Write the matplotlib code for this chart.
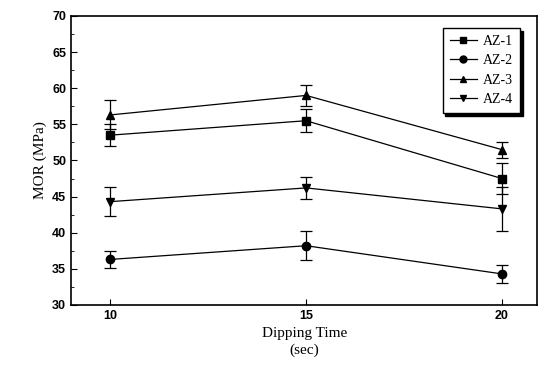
import numpy as np
import matplotlib.pyplot as plt
from matplotlib.ticker import MultipleLocator
from matplotlib.lines import Line2D

time = [10, 15, 20]
labels = ['AZ-1', 'AZ-2', 'AZ-3', 'AZ-4']
az1 = [53.5, 55.5, 47.5]
az1_err = [1.5, 1.6, 2.1]
az2 = [36.3, 38.2, 34.3]
az2_err = [1.2, 2.0, 1.2]
az3 = [56.3, 59.0, 51.5]
az3_err = [2.0, 1.4, 1.1]
az4 = [44.3, 46.2, 43.3]
az4_err = [2.0, 1.5, 3.0]

series = [az1, az2, az3, az4]
errs = [az1_err, az2_err, az3_err, az4_err]
markers = ['s', 'o', '^', 'v']

serif = 'Liberation Serif'
sans = 'Liberation Sans'

fig = plt.figure(figsize=(5.47, 3.71), dpi=100)
ax = fig.add_axes([0.130, 0.178, 0.852, 0.779])

handles = []
for y, e, m, lab in zip(series, errs, markers, labels):
    ax.errorbar(time, y, yerr=e, color='black', marker=m, markersize=6,
                linewidth=0.9, elinewidth=0.9, capsize=4, capthick=0.9)
    handles.append(Line2D([], [], color='black', marker=m, markersize=5,
                          linewidth=0.9, label=lab))

ax.set_xlim(9.0, 20.9)
ax.set_ylim(30, 70)
ax.set_xticks(time)
ax.yaxis.set_major_locator(MultipleLocator(5))
ax.yaxis.set_minor_locator(MultipleLocator(2.5))
ax.tick_params(direction='in', which='both', length=4)
ax.tick_params(which='minor', length=2.5)
for lab in ax.get_xticklabels() + ax.get_yticklabels():
    lab.set_fontfamily(sans)
    lab.set_fontsize(9)
    lab.set_fontweight('bold')

for s in ax.spines.values():
    s.set_linewidth(1.2)

ax.set_xlabel('Dipping Time\n(sec)', fontfamily=serif, fontsize=11, linespacing=1.3)
ax.set_ylabel('MOR (MPa)', fontfamily=serif, fontsize=11)

leg = ax.legend(handles=handles, loc='upper right', bbox_to_anchor=(0.963, 0.958),
                borderaxespad=0,
                prop={'family': serif, 'size': 10}, frameon=True, fancybox=False,
                shadow={'color': 'black', 'alpha': 1}, edgecolor='black',
                handlelength=2.0, handletextpad=0.4, borderpad=0.5, labelspacing=0.45)
leg.get_frame().set_linewidth(1.0)

fig.savefig('out.png', dpi=100)
